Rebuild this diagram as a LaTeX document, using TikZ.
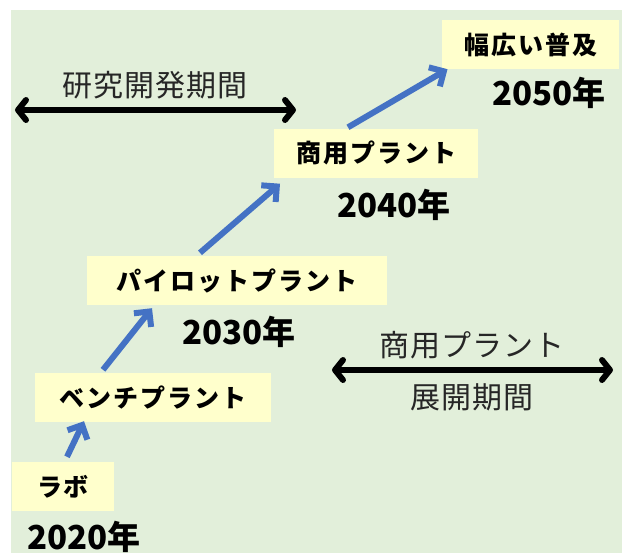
\documentclass[tikz,border=0pt]{standalone}
\usepackage{fontspec}
\newfontfamily\jp{Noto Sans CJK JP}
\usetikzlibrary{arrows.meta}
\definecolor{bggreen}{RGB}{226,239,218}
\definecolor{boxyellow}{RGB}{255,255,204}
\definecolor{arrowblue}{RGB}{68,114,196}
\begin{document}
\begin{tikzpicture}[x=1pt,y=-1pt,
  stage/.style={fill=boxyellow, inner sep=0pt, minimum height=49pt, text=black,
    font=\jp\bfseries\fontsize{25}{28}\selectfont\addfontfeature{LetterSpace=8}},
  year/.style={inner sep=0pt, text=black, font=\jp\bfseries\fontsize{33}{38}\selectfont},
  period/.style={inner sep=0pt, text=black!85, font=\jp\fontsize{30}{34}\selectfont\addfontfeature{LetterSpace=3}},
  flow/.style={draw=arrowblue, line width=6pt, -{Straight Barb[length=11pt,width=22pt]}},
  span/.style={draw=black, line width=6pt, {Straight Barb[length=8pt,width=20pt,round]}-{Straight Barb[length=8pt,width=20pt,round]}}
]
\useasboundingbox (0,0) rectangle (622,557);
\fill[bggreen] (11,10) rectangle (622,553);

% stages
\node[stage, minimum width=102pt] (labo)  at (63,486.5)  {ラボ};
\node[stage, minimum width=236pt] (bench) at (153,397.5) {ベンチプラント};
\node[stage, minimum width=300pt] (pilot) at (237,280.5) {パイロットプラント};
\node[stage, minimum width=204pt] (comm)  at (376,153)   {商用プラント};
\node[stage, minimum width=177pt] (wide)  at (530.5,44.5){幅広い普及};

% years
\node[year] (y2020) at (84,537) {2020年};
\node[year] (y2030) at (239,332) {2030年};
\node[year] (y2040) at (394,205) {2040年};
\node[year] (y2050) at (549,93) {2050年};

% flow arrows
\draw[flow] ([shift={(4pt,5pt)}]labo.north) -- ([shift={(-69pt,1pt)}]bench.south);
\draw[flow] ([shift={(-50pt,3pt)}]bench.north) -- ([shift={(-85pt,-3pt)}]pilot.south);
\draw[flow] ([shift={(-37pt,3pt)}]pilot.north) -- ([shift={(-96pt,-6pt)}]comm.south);
\draw[flow] ([shift={(-28pt,1pt)}]comm.north) -- ([shift={(-83pt,0pt)}]wide.south);

% research period
\coordinate (r1) at (15,110);
\coordinate (r2) at (296,110);
\draw[span] (r1) -- (r2);
\node[period] (rlabel) at (155,85) {研究開発期間};

% commercial deployment period
\coordinate (c1) at (332,370);
\coordinate (c2) at (613,370);
\draw[span] (c1) -- (c2);
\node[period] (clabel1) at (472,345) {商用プラント};
\node[period] (clabel2) at (472,397) {展開期間};
\end{tikzpicture}
\end{document}
